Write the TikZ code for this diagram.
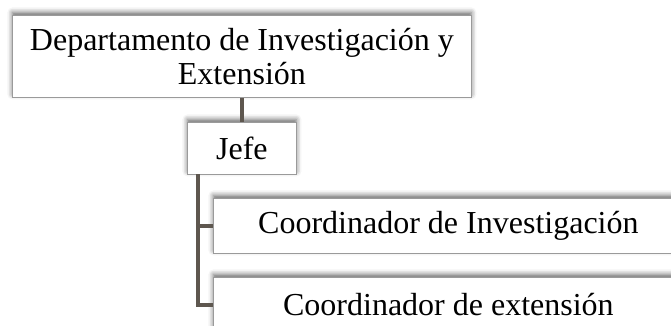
\documentclass[tikz,border=0pt]{standalone}
\usepackage{fontspec}
\setmainfont{Liberation Serif}
\usetikzlibrary{shadows.blur}
\definecolor{linkc}{HTML}{5E574F}
\definecolor{boxb}{HTML}{9A9A9A}
\tikzset{
  orgbox/.style={draw=boxb, line width=0.8pt, fill=white, rectangle, anchor=north west,
    inner sep=0pt, align=center, font=\fontsize{32}{34}\selectfont,
    blur shadow={shadow xshift=0pt, shadow yshift=3pt, shadow blur radius=5pt, shadow opacity=60}},
  link/.style={draw=linkc, line width=3.5pt}
}
\begin{document}
\begin{tikzpicture}[x=1pt,y=-1pt]
\useasboundingbox (0,0) rectangle (671,325);
\clip (0,0) rectangle (671,325);
\node[orgbox, minimum width=459pt, minimum height=82pt] (top) at (12,15)
  {Departamento de Investigación y\\Extensión};
\node[orgbox, minimum width=109pt, minimum height=52pt] (jefe) at (187,122) {Jefe};
\node[orgbox, minimum width=470pt, minimum height=55pt] (c1) at (213,198) {Coordinador de Investigación};
\node[orgbox, minimum width=470pt, minimum height=55pt] (c2) at (213,277) {Coordinador de extensión};
\coordinate (v) at (198,174);
\draw[link] (top.south) -- (jefe.north);
\draw[link] (v) |- (c1.west);
\draw[link] (v) |- (c2.west);
\end{tikzpicture}
\end{document}
